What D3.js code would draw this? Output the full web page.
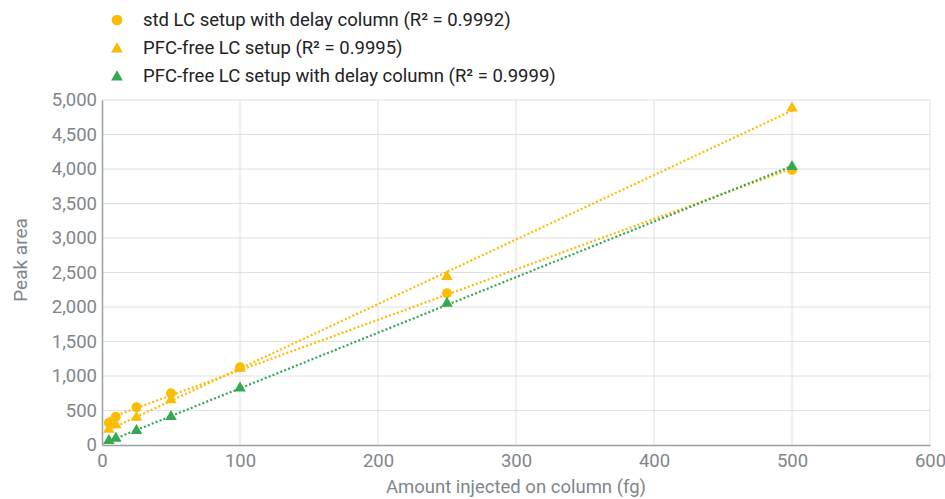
<!DOCTYPE html>
<html><head><meta charset="utf-8">
<script src="https://cdn.jsdelivr.net/npm/d3@7"></script>
<style>body{margin:0;background:#fff;}svg{display:block;font-family:Roboto,sans-serif;}</style>
</head><body><div id="chart"></div>
<script>
const amounts = [5, 10, 25, 50, 100, 250, 500];
const stdDelay = [323, 410, 546, 749, 1126, 2199, 3986];
const pfcFree = [227, 290, 401, 652, 1110, 2439, 4880];
const pfcDelay = [62, 97, 207, 410, 822, 2053, 4033];
const seriesNames = [
  "std LC setup with delay column (R² = 0.9992)",
  "PFC-free LC setup (R² = 0.9995)",
  "PFC-free LC setup with delay column (R² = 0.9999)"
];
const xTicks = [0, 100, 200, 300, 400, 500, 600];
const yTicks = [0, 500, 1000, 1500, 2000, 2500, 3000, 3500, 4000, 4500, 5000];

const W = 945, H = 499;
const m = {left: 102, right: 15, top: 100, bottom: 54};
const svg = d3.select("#chart").append("svg").attr("width", W).attr("height", H);
const x = d3.scaleLinear().domain([0, 600]).range([m.left, W - m.right]);
const y = d3.scaleLinear().domain([0, 5000]).range([H - m.bottom, m.top]);

const series = [
  {name: seriesNames[0], values: stdDelay, color: "#fbbc04", shape: d3.symbolCircle},
  {name: seriesNames[1], values: pfcFree, color: "#fbbc04", shape: d3.symbolTriangle},
  {name: seriesNames[2], values: pfcDelay, color: "#34a853", shape: d3.symbolTriangle}
];

// grid
svg.append("g").selectAll("line").data(yTicks.slice(1)).join("line")
  .attr("x1", x(0)).attr("x2", x(600)).attr("y1", d => y(d)).attr("y2", d => y(d))
  .attr("stroke", "#e0e0e0").attr("stroke-width", 1);
svg.append("g").selectAll("line").data(xTicks.slice(1)).join("line")
  .attr("y1", y(0)).attr("y2", y(5000)).attr("x1", d => x(d)).attr("x2", d => x(d))
  .attr("stroke", "#e0e0e0").attr("stroke-width", 1);

// axes
const xAxis = svg.append("g").attr("transform", `translate(0,${y(0)})`)
  .call(d3.axisBottom(x).tickValues(xTicks).tickSize(0).tickPadding(9).tickFormat(d3.format("d")));
const yAxis = svg.append("g").attr("transform", `translate(${x(0)},0)`)
  .call(d3.axisLeft(y).tickValues(yTicks).tickSize(0).tickPadding(5).tickFormat(d3.format(",")));
[xAxis, yAxis].forEach(a => {
  a.select(".domain").attr("stroke", "#9aa0a6").attr("stroke-width", 1.5);
  a.selectAll("text").attr("fill", "#80868b").style("font-size", "18.5px").style("font-family", "Roboto");
});
xAxis.selectAll("text").attr("dy", "0.71em");

// axis titles
svg.append("text").attr("x", x(300)).attr("y", 493).attr("text-anchor", "middle")
  .attr("fill", "#80868b").style("font-size", "18.5px").text("Amount injected on column (fg)");
svg.append("text").attr("transform", `translate(27,260) rotate(-90)`).attr("text-anchor", "middle")
  .attr("fill", "#80868b").style("font-size", "19px").text("Peak area");

// trendlines (least squares)
function fit(xs, ys) {
  const n = xs.length, mx = d3.mean(xs), my = d3.mean(ys);
  let sxy = 0, sxx = 0;
  for (let i = 0; i < n; i++) { sxy += (xs[i]-mx)*(ys[i]-my); sxx += (xs[i]-mx)**2; }
  const b = sxy / sxx; return {b, a: my - b*mx};
}
series.forEach(s => {
  const f = fit(amounts, s.values);
  const x0 = d3.min(amounts), x1 = d3.max(amounts);
  svg.append("line").attr("x1", x(x0)).attr("y1", y(f.a + f.b*x0)).attr("x2", x(x1)).attr("y2", y(f.a + f.b*x1))
    .attr("stroke", s.color).attr("stroke-width", 2.2).attr("stroke-dasharray", "2,2.2");
});

// points
series.forEach(s => {
  svg.append("g").selectAll("path").data(amounts.map((a, i) => [a, s.values[i]])).join("path")
    .attr("transform", d => `translate(${x(d[0])},${y(d[1])})`)
    .attr("d", d3.symbol().type(s.shape).size(s.shape === d3.symbolCircle ? 78 : 58))
    .attr("fill", s.color);
});

// legend
const lg = svg.append("g");
series.forEach((s, i) => {
  const yy = 20 + i * 28;
  lg.append("path").attr("transform", `translate(117,${yy + (s.shape === d3.symbolCircle ? 0 : 1)})`)
    .attr("d", d3.symbol().type(s.shape).size(s.shape === d3.symbolCircle ? 90 : 60)).attr("fill", s.color);
  lg.append("text").attr("x", 143).attr("y", yy).attr("dy", "0.35em").attr("fill", "#222")
    .style("font-size", "18.5px").text(s.name);
});
</script></body></html>
